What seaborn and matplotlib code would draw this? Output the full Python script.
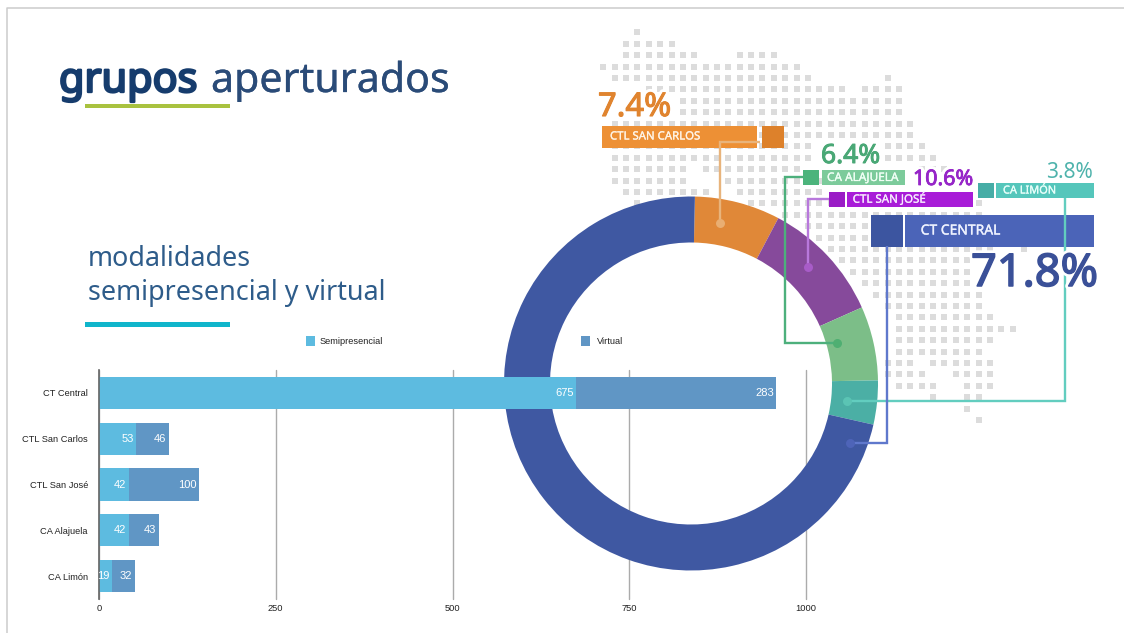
import matplotlib
matplotlib.use("Agg")
import matplotlib.pyplot as plt
import matplotlib.patheffects as pe
from matplotlib.patches import Rectangle
import numpy as np
import pandas as pd
import seaborn as sns

# ---------- data ----------
categories = ["CT Central", "CTL San Carlos", "CTL San José", "CA Alajuela", "CA Limón"]
semipresencial = [675, 53, 42, 42, 19]
virtual = [283, 46, 100, 43, 32]
x_ticks = [0, 250, 500, 750, 1000]

ring_labels = ["CTL SAN CARLOS", "CTL SAN JOSÉ", "CA ALAJUELA", "CA LIMÓN", "CT CENTRAL"]
ring_shares = [7.4, 10.6, 6.4, 3.8, 71.8]

# ---------- style / layout ----------
W, H = 1124, 633
SEMI_C, VIRT_C = "#5DBBE0", "#6096C5"
RING_C = ["#E08838", "#864A9B", "#7CBE88", "#4BAFA5", "#3F58A2"]
UI_FONT = ["Noto Sans", "DejaVu Sans"]
CHART_FONT = ["Liberation Sans", "DejaVu Sans"]

sns.set_theme(style="white")
plt.rcParams["font.family"] = CHART_FONT

fig = plt.figure(figsize=(W / 100, H / 100), dpi=100, facecolor="white")


def px_axes(left, top, right, bottom, z):
    return fig.add_axes([left / W, 1 - bottom / H, (right - left) / W, (bottom - top) / H], zorder=z)


def overlay(z):
    a = px_axes(0, 0, W, H, z)
    a.set_xlim(0, W)
    a.set_ylim(H, 0)
    a.axis("off")
    a.patch.set_alpha(0)
    return a


# ---------- background: frame and dotted map ----------
back = overlay(0)
back.plot([7, 7, W], [H, 8, 8], color="#CCCCCC", lw=1.1)

# row index -> column spans of the decorative dot grid
DOT_SPANS = {
    0: [(3, 3)], 1: [(2, 6)], 2: [(2, 8), (12, 15)], 3: [(0, 17)], 4: [(1, 18), (25, 25)],
    5: [(4, 21), (23, 26)], 6: [(7, 26)], 7: [(7, 26)], 8: [(1, 27)], 9: [(1, 27)],
    10: [(1, 18), (25, 28)], 11: [(1, 18), (25, 29)], 12: [(1, 7), (9, 17), (28, 30)],
    13: [(1, 7), (11, 19)], 14: [(2, 9), (12, 19)], 15: [(3, 3), (13, 33)], 16: [(16, 33)],
    17: [(18, 33)], 18: [(19, 33)], 19: [(20, 34), (37, 37)], 20: [(21, 32)], 21: [(22, 32)],
    22: [(23, 32)], 23: [(24, 33)], 24: [(25, 33)], 25: [(26, 34)], 26: [(26, 36)],
    27: [(26, 34)], 28: [(26, 33)], 29: [(25, 27), (29, 34)], 30: [(25, 28), (31, 34)],
    31: [(26, 29), (32, 34)], 32: [(29, 29), (32, 33)], 33: [(32, 32)], 34: [(33, 33)],
}
dot_c, dot_r = [], []
for r, spans in DOT_SPANS.items():
    for a, b in spans:
        for c in range(a, b + 1):
            dot_c.append(c)
            dot_r.append(r)
back.scatter(603.3 + 11.37 * np.array(dot_c), 32.3 + 11.4 * np.array(dot_r),
             marker="s", s=17, color="#DCDCDC", linewidths=0)

# ---------- gridlines (under the ring) ----------
BAR_BOX = (99, 370, 806, 599)
grid_ax = px_axes(*BAR_BOX, 1)
grid_ax.patch.set_alpha(0)
grid_ax.set_xlim(0, 1000)
grid_ax.set_xticks(x_ticks)
grid_ax.set_yticks([])
grid_ax.grid(axis="x", color="#ABABAB", lw=1, clip_on=False)
grid_ax.tick_params(labelbottom=False, length=0)
for s in grid_ax.spines.values():
    s.set_visible(False)

# ---------- ring ----------
cx, cy, R = 691, 383.5, 187
ring_ax = px_axes(cx - R, cy - R, cx + R, cy + R, 2)
ring_ax.pie(ring_shares, colors=RING_C, startangle=88.8, counterclock=False, radius=1,
            wedgeprops=dict(width=46 / R, linewidth=0))
ring_ax.set_xlim(-1, 1)
ring_ax.set_ylim(-1, 1)
ring_ax.patch.set_alpha(0)

# ---------- stacked bars (on top of the ring) ----------
df = pd.DataFrame({"centro": categories, "semi": semipresencial, "virt": virtual})
df["total"] = df["semi"] + df["virt"]
ax = px_axes(*BAR_BOX, 3)
ax.patch.set_alpha(0)
sns.barplot(data=df, y="centro", x="total", color=VIRT_C, saturation=1, width=0.7, linewidth=0, ax=ax)
sns.barplot(data=df, y="centro", x="semi", color=SEMI_C, saturation=1, width=0.7, linewidth=0, ax=ax)
ax.set_xlim(0, 1000)
ax.set_ylim(4.5, -0.5)
ax.set_xticks(x_ticks)
ax.set_xlabel("")
ax.set_ylabel("")
ax.grid(False)
for name, s in ax.spines.items():
    s.set_visible(name == "left")
ax.spines["left"].set_color("#666666")
ax.spines["left"].set_linewidth(1.2)
ax.tick_params(axis="both", length=0, labelsize=6.7, labelcolor="#222222")
ax.tick_params(axis="y", pad=8)
ax.tick_params(axis="x", pad=3.5)
for i, row in df.iterrows():
    for val, end in ((row["semi"], row["semi"]), (row["virt"], row["total"])):
        ax.annotate(str(val), (end, i), xytext=(-1.8, 0), textcoords="offset points",
                    ha="right", va="center", color="white", fontsize=8)

# ---------- foreground annotation ----------
top = overlay(4)


def box(x0, y0, x1, y1, color):
    top.add_patch(Rectangle((x0, y0), x1 - x0, y1 - y0, facecolor=color, edgecolor="none"))


def leader(xs, ys, line_c, dot_color):
    top.plot(xs, ys, color=line_c, lw=1.7, solid_joinstyle="miter", solid_capstyle="butt")
    top.scatter([xs[-1]], [ys[-1]], s=42, color=dot_color, linewidths=0, zorder=5)


def utext(x, y, s, color, size, heavy=0.0, halo=False, ha="left", va="baseline"):
    t = top.text(x, y, s, color=color, fontsize=size, ha=ha, va=va, family=UI_FONT)
    effects = []
    if halo:
        effects.append(pe.withStroke(linewidth=5, foreground="white"))
    if heavy:
        effects.append(pe.withStroke(linewidth=heavy, foreground=color))
    if effects:
        t.set_path_effects(effects)
    return t


# titles
utext(59, 92, "grupos", "#163C6D", 29.8, heavy=1.7)
utext(211, 92, "aperturados", "#2A4B78", 29.6, heavy=0.2)
back.add_patch(Rectangle((85, 104), 145, 4, facecolor="#A9C23F", edgecolor="none"))
utext(88, 266, "modalidades", "#2E5C8A", 19.4)
utext(88, 300, "semipresencial y virtual", "#2E5C8A", 19.4)
back.add_patch(Rectangle((85, 322), 145, 5, facecolor="#10B5CB", edgecolor="none"))

# legend
box(306, 336, 315, 346, SEMI_C)
top.text(320, 341.5, "Semipresencial", fontsize=6.7, color="#222222", va="center")
box(581, 336, 590, 346, VIRT_C)
top.text(597, 341.5, "Virtual", fontsize=6.7, color="#222222", va="center")

# leader lines
leader([760, 720, 720], [142, 142, 223], "#E8B47C", "#E9AE72")
leader([829, 808, 808], [199, 199, 267], "#B878DC", "#A85CC8")
leader([803, 785, 785, 837], [177, 177, 343, 343], "#4DB07C", "#4FAF72")
leader([1065, 1065, 847], [198, 401, 401], "#62CDBF", "#5BC4B4")
leader([887, 887, 850], [246, 443, 443], "#5F78CC", "#4E64B8")

# boxes
box(601.7, 126, 756.7, 148.3, "#ED9035")
box(761.7, 126, 783.7, 148.3, "#DD812B")
box(803, 170, 819, 185, "#4CB47C")
box(822, 170, 905, 185, "#7CCB9B")
box(829, 191.7, 845, 207, "#9A1CC6")
box(846.7, 191.7, 973, 207, "#A81CD8")
box(978, 183, 994, 198, "#46ADA6")
box(996, 183, 1093.6, 198, "#55C6BB")
box(870.7, 215, 903, 246.7, "#3C55A0")
box(904.6, 215, 1093.6, 246.7, "#4B64B8")

# box labels
utext(610, 137, ring_labels[0], "#FFF3E4", 8.2, heavy=0.2, va="center")
utext(852.7, 199.5, ring_labels[1], "#F7E8FF", 8.3, heavy=0.2, va="center")
utext(827, 177.5, ring_labels[2], "#F0FFF5", 8.5, heavy=0.2, va="center")
utext(1003, 191, ring_labels[3], "#E8FFFA", 7.9, heavy=0.2, va="center")
utext(920.7, 231, ring_labels[4], "#EEF2FF", 10, heavy=0.25, va="center")

# big percentages
utext(598, 116, f"{ring_shares[0]}%", "#E0842F", 23.5, heavy=0.8, halo=True)
utext(913, 185, f"{ring_shares[1]}%", "#9626C8", 15.4, heavy=0.6, halo=True)
utext(821, 163, f"{ring_shares[2]}%", "#4AA876", 19, heavy=0.7, halo=True)
utext(1046, 177.5, f"{ring_shares[3]}%", "#4FB3AC", 15)
utext(971, 286, f"{ring_shares[4]}%", "#3A5098", 32.5, heavy=1.1, halo=True)

fig.savefig("out.png", dpi=100, facecolor="white")
